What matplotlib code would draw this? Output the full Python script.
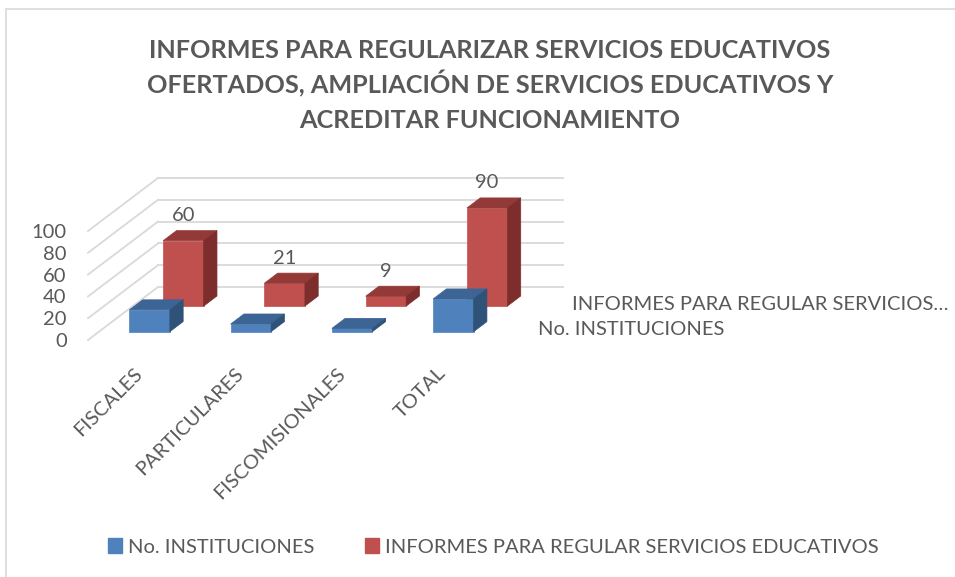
import matplotlib.pyplot as plt
from matplotlib.patches import Polygon, Patch, Rectangle

categories = ['FISCALES', 'PARTICULARES', 'FISCOMISIONALES', 'TOTAL']
instituciones = [20, 7, 3, 30]
informes = [60, 21, 9, 90]
series_names = ['No. INSTITUCIONES', 'INFORMES PARA REGULAR SERVICIOS EDUCATIVOS']
depth_labels = ['No. INSTITUCIONES', 'INFORMES PARA REGULAR SERVICIOS…']
y_ticks = [0, 20, 40, 60, 80, 100]
title_lines = ['INFORMES PARA REGULARIZAR SERVICIOS EDUCATIVOS',
               'OFERTADOS, AMPLIACIÓN DE SERVICIOS EDUCATIVOS Y',
               'ACREDITAR FUNCIONAMIENTO']

W, H = 955, 577
TXT = '#595959'
GRID = '#d9d9d9'
FONT = 'Lato'

# front plane geometry (pixels)
X0_PX, CAT_PX = 88, 101.25
Y0_PX, UNIT_PX = 340, 1.09
DX = 70 / CAT_PX     # full floor depth in category units
DY = 53 / UNIT_PX    # full floor depth in value units
BW = 0.4             # bar width
BD = 0.19            # bar depth (fraction of floor depth)
rows = [(instituciones, 0.157, '#4f81bd', '#3c6494', '#2f5278'),
        (informes, 0.64, '#c0504d', '#933a38', '#7d2e2c')]

plt.rcParams['font.family'] = [FONT, 'DejaVu Sans']

fig = plt.figure(figsize=(W / 100, H / 100), dpi=100)
ax = fig.add_axes([0, 0, 1, 1])
ax.set_xlim(-X0_PX / CAT_PX, (W - X0_PX) / CAT_PX)
ax.set_ylim(-(H - Y0_PX) / UNIT_PX, Y0_PX / UNIT_PX)
ax.axis('off')

# chart frame
fig.patches.append(Rectangle((6 / W, -0.1), 1.2, 1.1 - 9 / H, transform=fig.transFigure,
                             fill=False, edgecolor=GRID, lw=1.2))

n = len(categories)
# side wall and back wall gridlines
for t in y_ticks:
    ax.plot([0, DX], [t, t + DY], color=GRID, lw=1.3, zorder=1)
    ax.plot([DX, n + DX], [t + DY, t + DY], color=GRID, lw=1.3, zorder=1)
    ax.text(-0.21, t - 6.5, str(t), ha='right', va='baseline', fontsize=14.5, color=TXT)


def bar3d(x, v, d0, front, top, side, z):
    ox, oy = BD * DX, BD * DY
    xl = x - BW / 2 + d0 * DX
    xr = x + BW / 2 + d0 * DX
    b = d0 * DY
    ax.bar(x + d0 * DX, v, BW, bottom=b, color=front, edgecolor=front, lw=0.5, zorder=z)
    ax.add_patch(Polygon([(xl, b + v), (xr, b + v), (xr + ox, b + v + oy), (xl + ox, b + v + oy)],
                         closed=True, facecolor=top, edgecolor=top, lw=0.5, zorder=z))
    ax.add_patch(Polygon([(xr, b), (xr + ox, b + oy), (xr + ox, b + v + oy), (xr, b + v)],
                         closed=True, facecolor=side, edgecolor=side, lw=0.5, zorder=z))


# back row first, then front row
for k, (vals, d0, front, top, side) in reversed(list(enumerate(rows))):
    for i, v in enumerate(vals):
        bar3d(i + 0.5, v, d0, front, top, side, 3 + (1 - k) * 2)

# data labels on the back series
vals, d0 = rows[1][0], rows[1][1]
for i, v in enumerate(vals):
    ax.text(i + 0.5 + d0 * DX, d0 * DY + v + 23, str(v), ha='center', va='center',
            fontsize=14.5, color=TXT, zorder=10)

# category labels
for i, c in enumerate(categories):
    ax.text(i + 0.5 + 0.01, -28, c, rotation=45, rotation_mode='anchor',
            ha='right', va='center', fontsize=14.5, color=TXT)

# depth axis labels
for (vals, d0, *_), lab in zip(rows, depth_labels):
    dm = d0 + BD / 2
    ax.text(n + dm * DX + 0.27, dm * DY - 3, lab, ha='left', va='center',
            fontsize=14.5, color=TXT)

# title
for j, line in enumerate(title_lines):
    fig.text(490 / W, 1 - (58.3 + 35 * j) / H, line, ha='center', va='baseline',
             fontsize=18.2, fontweight='bold', color=TXT)

handles = [Patch(facecolor=r[2], edgecolor=r[2]) for r in rows]
fig.legend(handles, series_names, loc='center', bbox_to_anchor=(493 / W, 1 - 547 / H),
           ncol=2, frameon=False, fontsize=14.5, labelcolor=TXT,
           handlelength=0.7, handleheight=0.7, handletextpad=0.3, columnspacing=2.5)

fig.savefig('out.png', dpi=100)
